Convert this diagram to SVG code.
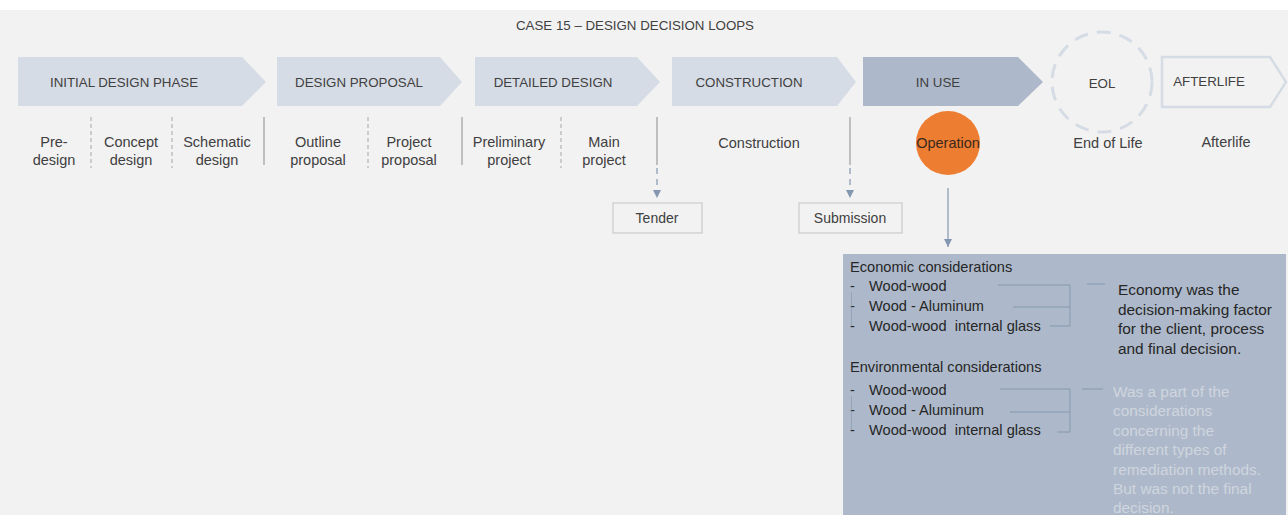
<svg xmlns="http://www.w3.org/2000/svg" width="1288" height="515" viewBox="0 0 1288 515">
<defs>
<style>
text{font-family:"Liberation Sans",Arial,sans-serif;fill:#404040;white-space:pre}
.ph{font-size:13.3px;text-anchor:middle}
.sub{font-size:14.5px;text-anchor:middle}
.chev{fill:#d6dce5}
.dv{stroke:#8c8c8c;stroke-width:1}
.dd{stroke:#a6a6a6;stroke-width:1;stroke-dasharray:4 3}
.ar{stroke:#8497b0;stroke-width:1.2;fill:none}
.bx{fill:#f2f2f2;stroke:#c3c3c3;stroke-width:1}
.bt{font-size:14.6px;fill:#262626}
.rt{font-size:15.4px;fill:#262626}
.gt{font-size:15.4px;fill:#cfd5de}
.br{stroke:#8497b0;stroke-width:1;fill:none}
</style>
<marker id="ah" viewBox="0 0 10 10" refX="10" refY="5" markerWidth="8" markerHeight="8" markerUnits="userSpaceOnUse" orient="auto">
<path d="M0,0 L10,5 L0,10 z" fill="#8497b0"/>
</marker>
</defs>
<rect x="0" y="0" width="1288" height="515" fill="#ffffff"/>
<rect x="0" y="10" width="1288" height="505" fill="#f2f2f2"/>
<text x="635" y="30" class="ph">CASE 15 – DESIGN DECISION LOOPS</text>

<g id="phase-initial">
<polygon class="chev" points="18,57 242,57 266,82 242,106 18,106"/>
<text x="124" y="87" class="ph">INITIAL DESIGN PHASE</text>
</g>
<g id="phase-proposal">
<polygon class="chev" points="277,57 440,57 462,82 440,106 277,106"/>
<text x="359" y="87" class="ph">DESIGN PROPOSAL</text>
</g>
<g id="phase-detailed">
<polygon class="chev" points="475,57 637,57 660,82 637,106 475,106"/>
<text x="553" y="87" class="ph">DETAILED DESIGN</text>
</g>
<g id="phase-construction">
<polygon class="chev" points="672,57 837,57 856,82 837,106 672,106"/>
<text x="749" y="87" class="ph">CONSTRUCTION</text>
</g>
<g id="phase-inuse">
<polygon points="863,57 1018,57 1043,82 1018,106 863,106" fill="#adb9ca"/>
<text x="938" y="87" class="ph">IN USE</text>
</g>
<g id="phase-eol">
<circle cx="1102" cy="82" r="50" fill="none" stroke="#d6dce5" stroke-width="3" stroke-dasharray="14 9"/>
<text x="1102" y="88" class="ph">EOL</text>
</g>
<g id="phase-afterlife">
<polygon points="1162,57 1270,57 1286,82 1270,107 1162,107" fill="none" stroke="#d6dce5" stroke-width="2.5"/>
<text x="1209" y="86" class="ph">AFTERLIFE</text>
</g>

<g id="sub-labels">
<text class="sub" x="54" y="147">Pre-</text>
<text class="sub" x="54" y="165">design</text>
<text class="sub" x="131" y="147">Concept</text>
<text class="sub" x="131" y="165">design</text>
<text class="sub" x="217" y="147">Schematic</text>
<text class="sub" x="217" y="165">design</text>
<text class="sub" x="318" y="147">Outline</text>
<text class="sub" x="318" y="165">proposal</text>
<text class="sub" x="409" y="147">Project</text>
<text class="sub" x="409" y="165">proposal</text>
<text class="sub" x="509" y="147">Preliminary</text>
<text class="sub" x="509" y="165">project</text>
<text class="sub" x="604" y="147">Main</text>
<text class="sub" x="604" y="165">project</text>
<text class="sub" x="759" y="148">Construction</text>
<text class="sub" x="1108" y="148">End of Life</text>
<text class="sub" x="1226" y="147">Afterlife</text>
</g>

<g id="operation">
<circle cx="948" cy="143" r="32" fill="#ed7d31"/>
<text class="sub" x="948" y="148" style="fill:#3a2a1e">Operation</text>
</g>

<g id="connectors">
<line class="dd" x1="91" y1="117" x2="91" y2="168"/>
<line class="dd" x1="172" y1="117" x2="172" y2="168"/>
<line class="dd" x1="368" y1="117" x2="368" y2="168"/>
<line class="dd" x1="561" y1="117" x2="561" y2="168"/>
<line class="dv" x1="264" y1="117" x2="264" y2="165"/>
<line class="dv" x1="462" y1="117" x2="462" y2="165"/>
<line class="dv" x1="657" y1="117" x2="657" y2="165"/>
<line class="dv" x1="850" y1="117" x2="850" y2="165"/>
<line class="ar" x1="657" y1="168" x2="657" y2="198" stroke-dasharray="6 5" marker-end="url(#ah)"/>
<line class="ar" x1="850" y1="168" x2="850" y2="198" stroke-dasharray="6 5" marker-end="url(#ah)"/>
<line class="ar" x1="948" y1="188" x2="948" y2="247" marker-end="url(#ah)"/>
</g>

<g id="tender">
<rect class="bx" x="613" y="203" width="89" height="30"/>
<text class="sub" x="657" y="223" style="font-size:14px">Tender</text>
</g>
<g id="submission">
<rect class="bx" x="799" y="203" width="103" height="30"/>
<text class="sub" x="850" y="223" style="font-size:14px">Submission</text>
</g>

<g id="considerations">
<rect x="843" y="254" width="443" height="261" fill="#adb9ca"/>
<text class="bt" x="850" y="272">Economic considerations</text>
<text class="bt" x="850" y="291">-</text>
<text class="bt" x="850" y="311">-</text>
<text class="bt" x="850" y="331">-</text>
<line class="br" x1="851.5" y1="292" x2="851.5" y2="326" opacity="0.6"/>
<text class="bt" x="869" y="291">Wood-wood</text>
<text class="bt" x="869" y="311">Wood - Aluminum</text>
<text class="bt" x="869" y="331" xml:space="preserve">Wood-wood  internal glass</text>
<path class="br" d="M998,285 H1070 V326 H1050 M1013,307 H1070"/>
<line class="br" x1="1087" y1="284" x2="1105" y2="284"/>
<text class="rt" x="1118" y="295">Economy was the</text>
<text class="rt" x="1118" y="315">decision-making factor</text>
<text class="rt" x="1118" y="334">for the client, process</text>
<text class="rt" x="1118" y="354">and final decision.</text>

<text class="bt" x="850" y="372">Environmental considerations</text>
<text class="bt" x="850" y="395">-</text>
<text class="bt" x="850" y="415">-</text>
<text class="bt" x="850" y="435">-</text>
<line class="br" x1="851.5" y1="396" x2="851.5" y2="430" opacity="0.6"/>
<text class="bt" x="869" y="395">Wood-wood</text>
<text class="bt" x="869" y="415">Wood - Aluminum</text>
<text class="bt" x="869" y="435" xml:space="preserve">Wood-wood  internal glass</text>
<path class="br" d="M1000,389 H1070 V432 H1057 M1010,412 H1070"/>
<line class="br" x1="1082" y1="389" x2="1103" y2="389" stroke="#c3cbd6"/>
<text class="gt" x="1113" y="397">Was a part of the</text>
<text class="gt" x="1113" y="416.4">considerations</text>
<text class="gt" x="1113" y="435.8">concerning the</text>
<text class="gt" x="1113" y="455.2">different types of</text>
<text class="gt" x="1113" y="474.6">remediation methods.</text>
<text class="gt" x="1113" y="494">But was not the final</text>
<text class="gt" x="1113" y="513.4">decision.</text>
</g>
</svg>
